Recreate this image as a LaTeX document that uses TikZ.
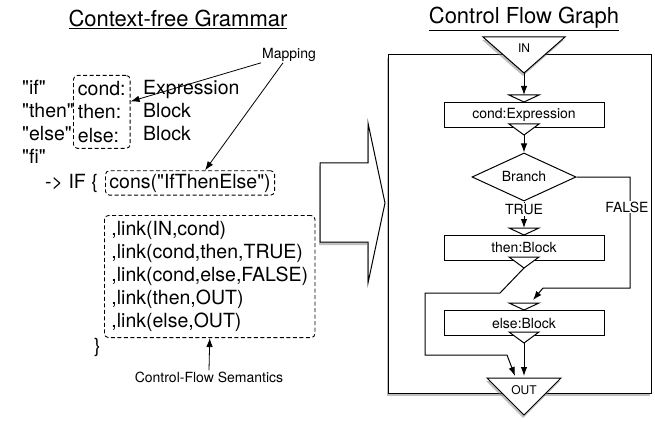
\documentclass[tikz,border=0pt]{standalone}
\usepackage{fontspec}
\setmainfont{TeX Gyre Heros}[Ligatures=TeXOff]
\usetikzlibrary{arrows.meta,shapes.geometric,shadows}

\newcommand{\bigtxt}{\fontsize{19.5}{23.2}\selectfont}
\newcommand{\smalltxt}{\fontsize{14}{16}\selectfont}
\newcommand{\tinytxt}{\fontsize{12}{14}\selectfont}
\newcommand{\titletxt}{\fontsize{22}{26}\selectfont}

% in/out ports of a flow graph box
\newcommand{\ports}[1]{%
  \draw[port] ([xshift=-15pt,yshift=7pt]#1.north) -- ([xshift=15pt,yshift=7pt]#1.north) -- (#1.north) -- cycle;
  \draw[port] ([xshift=-15pt,yshift=4pt]#1.south) -- ([xshift=15pt,yshift=4pt]#1.south) -- ([yshift=-7pt]#1.south) -- cycle;
  \coordinate (#1-in) at ([yshift=7pt]#1.north);
  \coordinate (#1-out) at ([yshift=-7pt]#1.south);
}

\begin{document}
\begin{tikzpicture}[x=1pt,y=-1pt,
    every node/.append style={inner sep=1pt},
    >={Latex[length=9pt,width=6.5pt]},
    dashbox/.style={draw,dash pattern=on 4pt off 2.5pt,rounded corners=4pt,line width=.9pt},
    cfgbox/.style={draw,fill=white,line width=1pt,minimum width=160pt,minimum height=25pt,inner sep=0pt,font=\smalltxt},
    port/.style={draw,fill=white,line width=1pt},
    flow/.style={->,line width=1pt},
    note/.style={->,line width=.8pt},
    shade/.style={drop shadow={shadow xshift=-1pt,shadow yshift=-3pt,opacity=.5}}]
  \useasboundingbox (0,0) rectangle (655,422);

  % grammar
  \node[font=\titletxt] (gtitle) at (178,19) {\underline{Context-free Grammar}};
  \node[font=\bigtxt,anchor=base west] (kwif) at (21,95) {"if"};
  \node[font=\bigtxt,anchor=base west] (kwthen) at (21,118) {"then"};
  \node[font=\bigtxt,anchor=base west] (kwelse) at (21,141) {"else"};
  \node[font=\bigtxt,anchor=base west] (kwfi) at (21,164) {"fi"};
  \node[dashbox,font=\bigtxt,align=left,anchor=north west,inner xsep=4.5pt,inner ysep=6pt] (fieldbox) at (73,75) {cond:\\then:\\else:};
  \node[font=\bigtxt,anchor=base west] (texpr) at (142,95) {Expression};
  \node[font=\bigtxt,anchor=base west] (tblock1) at (142,118) {Block};
  \node[font=\bigtxt,anchor=base west] (tblock2) at (142,141) {Block};
  \node[font=\bigtxt,anchor=base west] (ifcons) at (44,188) {-> IF \{};
  \node[dashbox,font=\bigtxt,anchor=base west,inner xsep=4pt,inner ysep=3pt] (consbox) at (105,188) {cons("IfThenElse")};
  \node[dashbox,font=\bigtxt,align=left,anchor=north west,inner xsep=7pt,inner ysep=5.5pt] (linkbox) at (104,215)
    {,link(IN,cond)\\,link(cond,then,TRUE)\\,link(cond,else,FALSE)\\,link(then,OUT)\\,link(else,OUT)};
  \node[font=\bigtxt,anchor=base west] (closebrace) at (93,352) {\}};

  \node[font=\smalltxt] (mapping) at (289,55) {Mapping};
  \node[font=\smalltxt] (cfsem) at (209,377) {Control-Flow Semantics};
  \draw[note] (mapping.south west) -- (fieldbox.20);
  \draw[note] ([xshift=-6pt]mapping.south) -- ([xshift=15pt]consbox.north);
  \draw[note] (cfsem.north) -- (linkbox.south);

  % big arrow
  \draw[line width=1pt,fill=white,shade] (320,163) -- (368,163) -- (368,123) -- (385,203)
    -- (368,283) -- (368,242) -- (320,242) -- cycle;

  % control flow graph
  \node[font=\titletxt] (ctitle) at (524,19) {\underline{Control Flow Graph}};
  \draw[line width=1pt,fill=white,shade] (388,55) rectangle (651,393);

  \draw[port,shade] (483,37) -- (565,37) -- (524,73) coordinate (in) -- cycle;
  \node[font=\tinytxt] (inlabel) at (524,48) {IN};

  \node[cfgbox] (cond) at (524,115) {cond:Expression};
  \ports{cond}
  \node[diamond,draw,fill=white,line width=1pt,aspect=2.2,minimum width=104pt,minimum height=48pt,
    inner sep=0pt,font=\smalltxt] (branch) at (524,177) {Branch};
  \node[cfgbox] (then) at (524,248) {then:Block};
  \ports{then}
  \node[cfgbox] (else) at (524,323) {else:Block};
  \ports{else}

  \coordinate (out) at (524,376);
  \coordinate (fbend) at (630,288);
  \draw[port,shade] (487,378) -- (561,378) -- (524,415) -- cycle;
  \node[font=\tinytxt] (outlabel) at (524,390) {OUT};

  \draw[flow] (in) -- (cond-in);
  \draw[flow] (cond-out) -- (branch.north);
  \draw[flow] (branch.south) -- node[pos=.3,fill=white,font=\smalltxt] (truelabel) {TRUE} (then-in);
  \draw[flow] (branch.east) -| (fbend) -- ++(-87,0) -- ([xshift=9pt,yshift=3pt]else-in);
  \node[fill=white,font=\smalltxt] (falselabel) at (627,207) {FALSE};
  \draw[flow] (then-out) -- ++(-24,25) -- ++(-75,0) -- ++(0,62) -- ++(82,0) -- ([xshift=-9pt]out);
  \draw[flow] (else-out) -- (out);
\end{tikzpicture}
\end{document}
